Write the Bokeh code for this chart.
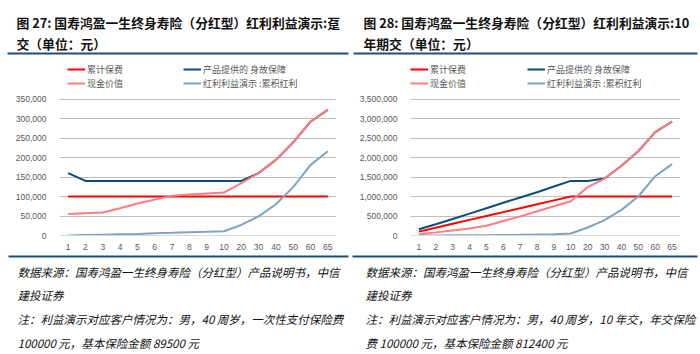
from bokeh.plotting import figure
from bokeh.layouts import row, column
from bokeh.models import (Range1d, FactorRange, Label, Legend, LegendItem,
                          BoxAnnotation, NumeralTickFormatter, FixedTicker)
from bokeh.embed import file_html
from bokeh.resources import INLINE

categories = ["1", "2", "3", "4", "5", "6", "7", "8", "9", "10",
              "20", "30", "40", "50", "60", "65"]

# Figure 27: single premium
l_premium = [100000] * 16
l_death = [160000, 140000, 140000, 140000, 140000, 140000, 140000, 140000,
           140000, 140000, 140000, 160000, 194000, 239000, 292000, 322000]
l_cash = [55000, 57000, 59000, 70000, 82000, 92000, 102000, 105000,
          107500, 110000, 134000, 160000, 194000, 239000, 292000, 322000]
l_bonus = [0, 1000, 2000, 3000, 4000, 6000, 7000, 8500,
           9500, 11000, 27000, 49000, 80000, 124000, 181000, 216000]
l_ticks = [0, 50000, 100000, 150000, 200000, 250000, 300000, 350000]

# Figure 28: 10-year premium
r_premium = [100000, 200000, 300000, 400000, 500000, 600000, 700000, 800000,
             900000, 1000000, 1000000, 1000000, 1000000, 1000000, 1000000, 1000000]
r_death = [162000, 290000, 425000, 560000, 700000, 840000, 975000, 1110000,
           1255000, 1400000, 1400000, 1460000, 1790000, 2160000, 2650000, 2920000]
r_cash = [35000, 80000, 130000, 180000, 250000, 370000, 490000, 620000,
          750000, 880000, 1240000, 1460000, 1790000, 2160000, 2650000, 2920000]
r_bonus = [0, 2000, 4000, 6000, 9000, 13000, 18000, 25000,
           35000, 50000, 205000, 393000, 657000, 1000000, 1520000, 1830000]
r_ticks = [0, 500000, 1000000, 1500000, 2000000, 2500000, 3000000, 3500000]

series_names = ["累计保费", "产品提供的 身故保障", "现金价值", "红利利益演示 :累积红利"]
series_colors = ["#FF0000", "#0E4A7E", "#FF7C80", "#7EA3C3"]

left_title = ["图 27: 国寿鸿盈一生终身寿险（分红型）红利利益演示:趸", "交（单位：元）"]
right_title = ["图 28: 国寿鸿盈一生终身寿险（分红型）红利利益演示:10", "年期交（单位：元）"]
left_notes = ["数据来源：国寿鸿盈一生终身寿险（分红型）产品说明书，中信",
              "建投证券",
              "注：利益演示对应客户情况为：男，40 周岁，一次性支付保险费",
              "100000 元，基本保险金额 89500 元"]
right_notes = ["数据来源：国寿鸿盈一生终身寿险（分红型）产品说明书，中信",
               "建投证券",
               "注：利益演示对应客户情况为：男，40 周岁，10 年交，年交保险",
               "费 100000 元，基本保险金额 812400 元"]

CJK = "Noto Sans CJK SC"
RULE = "#1F4E79"
W = 350
TOP_H = 55          # title strip
CHART_H = 199       # chart strip (y 55..254)
BOT_H = 100         # notes strip (y 254..354)
FRAME_BOTTOM = 180  # frame bottom inside chart strip (y 235 on page)
GRID_TOP = 43.5     # top gridline inside chart strip (y 98.5 on page)


def no_align(p):
    try:
        p.frame_align = False
    except Exception:
        pass


def text_strip(height, lines, x0, y0, dy, size, style, rule):
    p = figure(frame_width=W, frame_height=height, output_backend="svg",
               toolbar_location=None,
               x_range=Range1d(0, W), y_range=Range1d(height, 0),
               x_axis_type=None, y_axis_type=None,
               min_border=0, min_border_left=0, min_border_right=0,
               min_border_top=0, min_border_bottom=0)
    no_align(p)
    p.outline_line_color = None
    p.xgrid.visible = False
    p.ygrid.visible = False
    x_a, x_b, y_r = rule
    p.add_layout(BoxAnnotation(left=x_a, right=x_b, top=y_r, bottom=y_r + 2,
                               fill_color=RULE, fill_alpha=1, line_color=None))
    for i, t in enumerate(lines):
        p.add_layout(Label(x=x0, y=y0 + dy * i, text=t, text_baseline="middle",
                           text_align="left", text_font=CJK, text_font_size=size,
                           text_font_style=style, text_color="#111111"))
    return p


def chart(series, ticks, fl, fw, leg_x):
    top_tick = ticks[-1]
    ymax = top_tick * FRAME_BOTTOM / (FRAME_BOTTOM - GRID_TOP)
    p = figure(frame_width=fw, frame_height=FRAME_BOTTOM, output_backend="svg",
               toolbar_location=None,
               x_range=FactorRange(*categories, range_padding=0),
               y_range=Range1d(0, ymax),
               min_border_left=fl, min_border_right=W - fl - fw,
               min_border_top=0, min_border_bottom=CHART_H - FRAME_BOTTOM)
    no_align(p)
    p.outline_line_color = None
    p.xgrid.visible = False
    p.ygrid.grid_line_color = "#BFBFBF"
    p.ygrid.grid_line_width = 1
    p.yaxis.ticker = FixedTicker(ticks=ticks)
    p.yaxis.formatter = NumeralTickFormatter(format="0,0")
    p.yaxis.axis_line_color = None
    p.yaxis.major_tick_line_color = None
    p.yaxis.minor_tick_line_color = None
    p.yaxis.major_label_standoff = 7
    p.xaxis.axis_line_color = "#D9D9D9"
    p.xaxis.major_tick_line_color = None
    p.xaxis.major_label_standoff = 2
    for ax in (p.xaxis, p.yaxis):
        ax.major_label_text_font = "Liberation Sans"
        ax.major_label_text_font_size = "8.5px"
        ax.major_label_text_color = "#595959"

    renderers = []
    for vals, c in zip(series, series_colors):
        renderers.append(p.line(x=categories, y=vals, line_color=c, line_width=2))

    # legend rows centred at page y 69 and 83 -> strip y 14 and 28
    for k, cols in enumerate([(0, 2), (1, 3)]):
        items = [LegendItem(label=series_names[i], renderers=[renderers[i]]) for i in cols]
        lg = Legend(items=items, location=(leg_x[k] - fl, FRAME_BOTTOM - 35),
                    border_line_color=None, background_fill_alpha=0,
                    padding=0, margin=0, spacing=0, glyph_width=18,
                    glyph_height=14, label_height=14, label_standoff=2,
                    label_text_font=CJK, label_text_font_size="9px",
                    label_text_color="#595959")
        p.add_layout(lg)
    return p


def panel(series, ticks, fl, fw, leg_x, title, notes, tx, nx, top_rule, bot_rule):
    top = text_strip(TOP_H, title, tx, 22, 21, "12.8px", "bold", top_rule)
    mid = chart(series, ticks, fl, fw, leg_x)
    bot = text_strip(BOT_H, notes, nx, 17, 23.7, "11.5px", "italic", bot_rule)
    return column(top, mid, bot, spacing=0)


c1 = panel([l_premium, l_death, l_cash, l_bonus], l_ticks, 59, 277, (67, 183),
           left_title, left_notes, 16, 17, (7, 348, 52), (8, 348, 1))
c2 = panel([r_premium, r_death, r_cash, r_bonus], r_ticks, 60, 270, (60, 177),
           right_title, right_notes, 13, 15, (3, 347, 52), (2, 347, 1))

layout = row(c1, c2, spacing=0)
open("out.html", "w").write(file_html(layout, INLINE))
